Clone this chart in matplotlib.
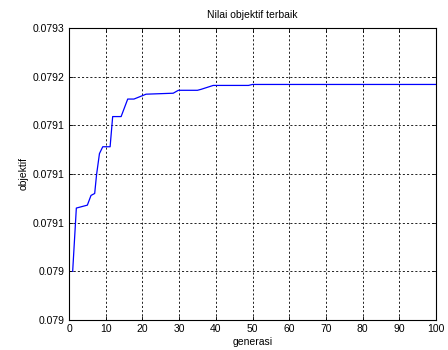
import matplotlib
matplotlib.use("Agg")
import matplotlib.pyplot as plt

# breakpoints of the best-objective curve (generation, value)
generasi = [1, 2, 3, 5, 6, 7, 7.5, 8.3, 9.2, 11.2, 11.9, 14.2, 16, 17.7, 21, 28.4, 29.8, 35, 36, 39.3, 48.9, 50, 100]
objektif = [0.079050, 0.079115, 0.079116, 0.079118, 0.079128, 0.079130, 0.079149, 0.079171, 0.079178, 0.079178,
            0.079209, 0.079209, 0.079227, 0.079227, 0.079232, 0.079233, 0.079236, 0.079236, 0.079237,
            0.079241, 0.079241, 0.079242, 0.079242]

x_ticks = [0, 10, 20, 30, 40, 50, 60, 70, 80, 90, 100]
y_ticks = [0.07900, 0.07905, 0.07910, 0.07915, 0.07920, 0.07925, 0.07930]
y_tick_labels = ["0.079", "0.079", "0.0791", "0.0791", "0.0791", "0.0792", "0.0793"]

plt.rcParams["font.family"] = ["Liberation Sans", "DejaVu Sans"]

fig = plt.figure(figsize=(4.48, 3.5), dpi=100)
ax = fig.add_axes([69/448, 1-320/350, 367/448, 292/350])

ax.plot(generasi, objektif, color=(0, 0, 1), lw=0.9)

ax.set_xlim(0, 100)
ax.set_ylim(y_ticks[0], y_ticks[-1])
ax.set_xticks(x_ticks)
ax.set_xticklabels([str(t) for t in x_ticks])
ax.set_yticks(y_ticks)
ax.set_yticklabels(y_tick_labels)
ax.tick_params(direction="in", length=3, width=0.6, labelsize=7.5, top=True, right=True, colors="black", pad=3)
ax.grid(True, color="black", linestyle=(0, (2.5, 2.5)), linewidth=0.6)
for s in ax.spines.values():
    s.set_linewidth(0.8)

ax.set_title("Nilai objektif terbaik", fontsize=7.5, pad=7)
ax.set_xlabel("generasi", fontsize=7.5, labelpad=2)
ax.set_ylabel("objektif", fontsize=7.5, labelpad=3)

fig.savefig("out.png", dpi=100)
